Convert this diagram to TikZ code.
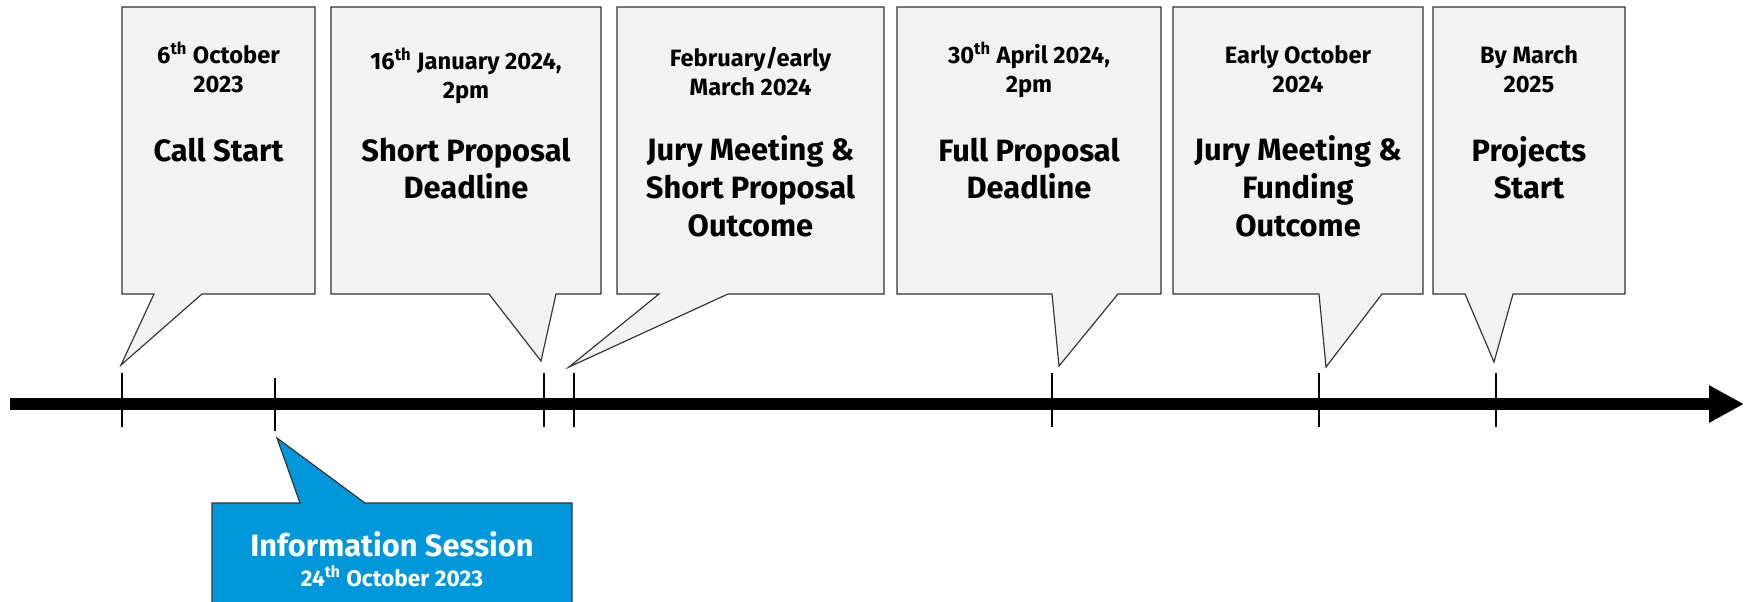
\documentclass[tikz,border=0pt]{standalone}
\usepackage{fontspec}
\setsansfont{Fira Sans}
\usetikzlibrary{arrows.meta}

\definecolor{grau}{HTML}{F2F2F2}
\definecolor{blau}{HTML}{0098DA}
\newcommand{\titelschrift}{\fontsize{18.5}{22.6}\selectfont}
\newcommand{\datumschrift}{\fontsize{14.2}{17.4}\selectfont}
\newcommand{\infoschrift}{\fontsize{13.6}{15}\selectfont}

\begin{document}
\begin{tikzpicture}[x=0.6pt, y=-0.6pt,
        font=\sffamily\bfseries,
        >={Triangle[length=21pt,width=21pt]}, % Pfeilspitze Zeitstrahl
        blase/.style={draw=black!80, line width=0.7pt, fill=grau},
        infoblase/.style={blase, fill=blau},
        datum/.style={align=center, anchor=base, inner sep=0pt, font=\sffamily\bfseries\datumschrift},
        titel/.style={align=center, anchor=base, inner sep=0pt, font=\sffamily\bfseries\titelschrift},
        marke/.style={line width=1.2pt}
        ]
            \useasboundingbox (0,0) rectangle (1753,601);

            % Zeitstrahl
            \coordinate (A) at (10,404);
            \coordinate (Z) at (1744,404);
            \draw [->, line width=7.2pt] (A) -- (Z);

            % Marken
            \foreach \name/\x/\yo/\yu in {t1/122/373/427, t2/275/378/431, t3/544/373/427,
                    t4/574/373/427, t5/1052/373/427, t6/1319/373/427, t7/1496/373/427}
                \draw [marke] (\x,\yo) coordinate (\name) -- (\x,\yu);

            % Sprechblasen
            \draw [blase]   (122,7) -- (315,7) -- (315,294) -- (202,294)
                            -- (121,365) -- (154,294) -- (122,294) -- cycle;
            \draw [blase]   (331,7) -- (601,7) -- (601,294) -- (556,294)
                            -- (541,361) -- (489,294) -- (331,294) -- cycle;
            \draw [blase]   (617,7) -- (884,7) -- (884,294) -- (728,294)
                            -- (569,367) -- (659,294) -- (617,294) -- cycle;
            \draw [blase]   (897,7) -- (1161,7) -- (1161,294) -- (1118,294)
                            -- (1059,366) -- (1052,294) -- (897,294) -- cycle;
            \draw [blase]   (1173,7) -- (1423,7) -- (1423,294) -- (1382,294)
                            -- (1326,367) -- (1319,294) -- (1173,294) -- cycle;
            \draw [blase]   (1433,7) -- (1625,7) -- (1625,294) -- (1513,294)
                            -- (1494,362) -- (1465,294) -- (1433,294) -- cycle;
            \draw [infoblase] (212,612) -- (212,503) -- (300,503) -- (277,438)
                            -- (365,503) -- (572,503) -- (572,612);

            % Texte (Anker: Grundlinie der letzten Zeile)
            \node [datum] (d1) at (218.5,92) {6\textsuperscript{th} October\\2023};
            \node [titel] (n1) at (218.5,161) {Call Start};
            \node [datum] (d2) at (466,98) {16\textsuperscript{th} January 2024,\\2pm};
            \node [titel] (n2) at (466,198.7) {Short Proposal\\Deadline};
            \node [datum] (d3) at (750.5,95) {February/early\\March 2024};
            \node [titel] (n3) at (750.5,236.3) {Jury Meeting \&\\Short Proposal\\Outcome};
            \node [datum] (d4) at (1029,92) {30\textsuperscript{th} April 2024,\\2pm};
            \node [titel] (n4) at (1029,198.7) {Full Proposal\\Deadline};
            \node [datum] (d5) at (1298,92) {Early October\\2024};
            \node [titel] (n5) at (1298,236.3) {Jury Meeting \&\\Funding\\Outcome};
            \node [datum] (d6) at (1529,92) {By March\\2025};
            \node [titel] (n6) at (1529,198.7) {Projects\\Start};

            \node [titel, text=white] (i1) at (392,556) {Information Session};
            \node [datum, text=white, font=\sffamily\bfseries\infoschrift] (i2) at (392,586)
                    {24\textsuperscript{th} October 2023};

        \end{tikzpicture}
\end{document}
